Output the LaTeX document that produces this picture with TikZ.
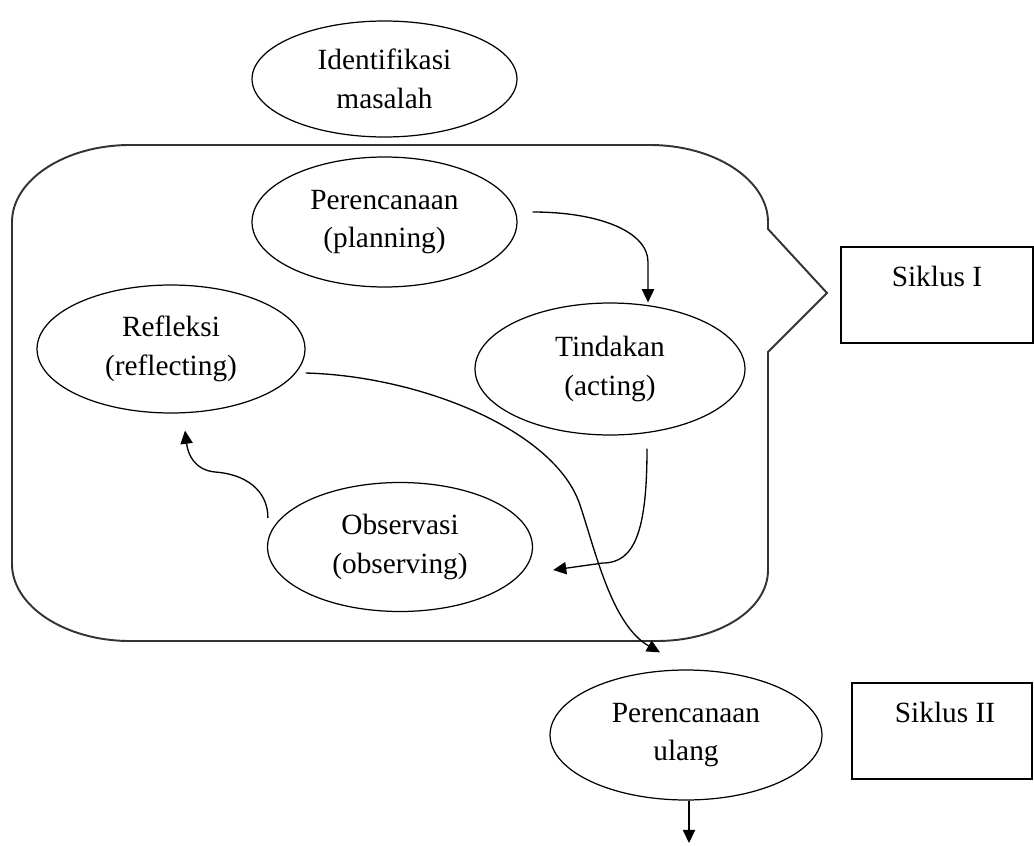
\documentclass[tikz,border=0pt]{standalone}
\usepackage{fontspec}
\setmainfont{Liberation Serif}
\usetikzlibrary{shapes.geometric,arrows.meta}
\tikzset{
  oval/.style={ellipse,draw,line width=0.7pt,inner sep=0pt,align=center,
    font=\fontsize{16.7}{22}\selectfont},
  sbox/.style={rectangle,draw,line width=1.1pt,inner sep=0pt},
  lbl/.style={font=\fontsize{16.7}{22}\selectfont,inner sep=0pt},
  flow/.style={line width=0.75pt,-{Triangle[length=7.5pt,width=7pt]}},
  frame/.style={line width=1.1pt,draw=black!80}
}
\begin{document}
\begin{tikzpicture}[x=0.02cm,y=-0.02cm]
\useasboundingbox (0,0) rectangle (1034,845);
% cycle frame
\draw[frame] (130,145) -- (650,145) .. controls (715,145) and (768,180) .. (768,222)
  -- (768,229) -- (827,293) -- (768,352) -- (768,570)
  .. controls (768,610) and (718,641) .. (657,641) -- (130,641)
  .. controls (65,641) and (12,606) .. (12,564) -- (12,222)
  .. controls (12,180) and (65,145) .. (130,145) -- cycle;
% nodes
\node[oval,minimum width=5.3cm,minimum height=2.32cm] (ident) at (384.5,79) {Identifikasi\\masalah};
\node[oval,minimum width=5.3cm,minimum height=2.6cm] (plan) at (384.5,222) {Perencanaan\\(planning)};
\node[oval,minimum width=5.36cm,minimum height=2.56cm] (refl) at (171,349) {Refleksi\\(reflecting)};
\node[oval,minimum width=5.4cm,minimum height=2.64cm] (tind) at (610,369) {Tindakan\\(acting)};
\node[oval,minimum width=5.3cm,minimum height=2.58cm] (obs) at (400,547) {Observasi\\(observing)};
\node[oval,minimum width=5.44cm,minimum height=2.6cm] (ulang) at (686,735) {Perencanaan\\ulang};
\node[sbox,minimum width=3.84cm,minimum height=1.92cm] (s1) at (937,295) {};
\node[lbl] (s1t) at (937,276) {Siklus I};
\node[sbox,minimum width=3.6cm,minimum height=1.92cm] (s2) at (942,731) {};
\node[lbl] (s2t) at (945,712) {Siklus II};
\coordinate (next) at (689,843);
% connectors
\draw[flow] ([shift={(15,-10)}]plan.east) .. controls (600,212) and (648,232) .. (648,262)
  -- ([shift={(38,0)}]tind.north);
\draw[flow] ([shift={(37,13)}]tind.south) .. controls (647,530) and (635,563) .. (603,563)
  -- ([shift={(20,23)}]obs.east);
\draw[flow] ([shift={(1,-29)}]obs.west) .. controls (268,490) and (245,474) .. (215,472)
  .. controls (195,470) and (188,455) .. ([shift={(14,17)}]refl.south);
\draw[flow] ([shift={(0,24)}]refl.east) .. controls (420,376) and (555,430) .. (580,505)
  .. controls (596,553) and (612,625) .. ([shift={(-26,-17)}]ulang.north);
\draw[flow] ([shift={(3,0)}]ulang.south) -- (next);
\end{tikzpicture}
\end{document}
